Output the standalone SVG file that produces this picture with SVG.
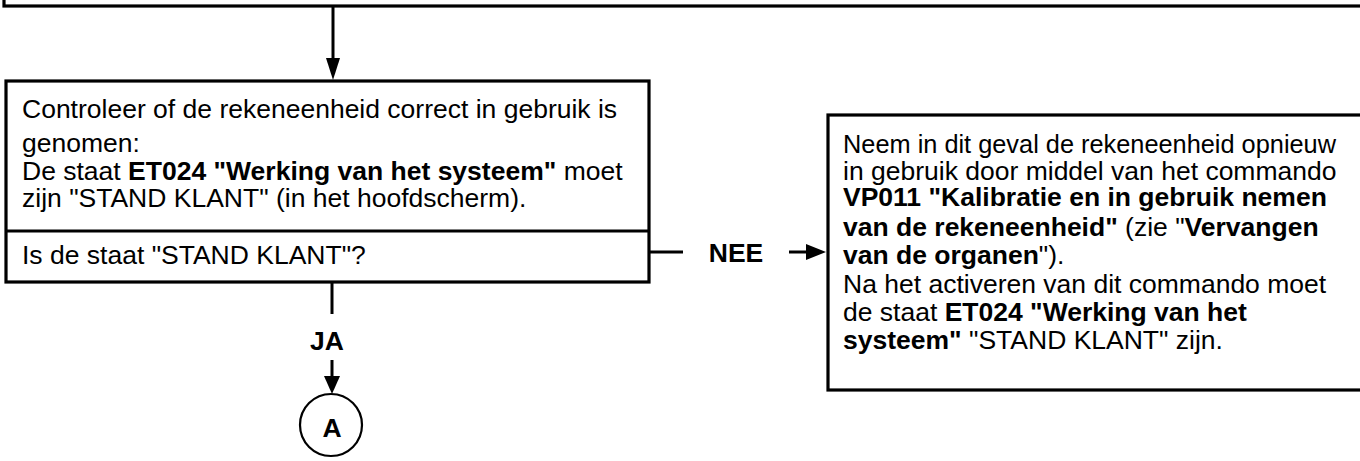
<svg xmlns="http://www.w3.org/2000/svg" width="1360" height="461" viewBox="0 0 1360 461">
<style>
.box{fill:#fff;stroke:#000;stroke-width:3.2}
.ln{fill:none;stroke:#000;stroke-width:3}
.ah{fill:#000;stroke:none}
.t{font-family:"Liberation Sans",Arial,sans-serif;font-size:26.5px;fill:#000}
.b{font-weight:bold}
</style>
<rect width="1360" height="461" fill="#fff"/>
<g id="top-box">
<rect class="box" x="4" y="-60" width="1400" height="66"/>
</g>
<g id="connectors">
<line class="ln" x1="333" y1="6" x2="333" y2="62"/>
<polygon class="ah" points="326,58 340,58 333,80"/>
<line class="ln" x1="649" y1="252" x2="683" y2="252"/>
<line class="ln" x1="789" y1="252" x2="808" y2="252"/>
<polygon class="ah" points="806,244 806,260 826,252"/>
<line class="ln" x1="332" y1="282" x2="332" y2="314"/>
<line class="ln" x1="332" y1="360" x2="332" y2="379"/>
<polygon class="ah" points="324,376 340,376 332,394"/>
<text class="t b" x="327" y="350" text-anchor="middle">JA</text>
<text class="t b" x="736" y="262" text-anchor="middle">NEE</text>
</g>
<g id="check-box">
<rect class="box" x="6" y="81" width="643" height="201"/>
<line class="ln" x1="6" y1="231" x2="649" y2="231"/>
<text class="t" x="22" y="118">Controleer of de rekeneenheid correct in gebruik is</text>
<text class="t" x="22" y="152">genomen:</text>
<text class="t" x="22" y="180">De staat <tspan class="b">ET024 "Werking van het systeem"</tspan> moet</text>
<text class="t" x="22" y="207">zijn "STAND KLANT" (in het hoofdscherm).</text>
<text class="t" x="22" y="264">Is de staat "STAND KLANT"?</text>
</g>
<g id="action-box">
<rect class="box" x="828" y="115" width="600" height="275"/>
<text class="t" x="843" y="153" textLength="493" lengthAdjust="spacingAndGlyphs">Neem in dit geval de rekeneenheid opnieuw</text>
<text class="t" x="843" y="180">in gebruik door middel van het commando</text>
<text class="t b" x="843" y="206">VP011 "Kalibratie en in gebruik nemen</text>
<text class="t" x="843" y="236"><tspan class="b">van de rekeneenheid"</tspan> (zie "<tspan class="b">Vervangen</tspan></text>
<text class="t" x="843" y="264"><tspan class="b">van de organen</tspan>").</text>
<text class="t" x="843" y="293">Na het activeren van dit commando moet</text>
<text class="t" x="843" y="321">de staat <tspan class="b">ET024 "Werking van het</tspan></text>
<text class="t" x="843" y="349"><tspan class="b">systeem"</tspan> "STAND KLANT" zijn.</text>
</g>
<g id="connector-A">
<circle cx="331" cy="425" r="31" fill="#fff" stroke="#000" stroke-width="2.2"/>
<text class="t b" x="332" y="437" text-anchor="middle" font-size="32">A</text>
</g>
</svg>
